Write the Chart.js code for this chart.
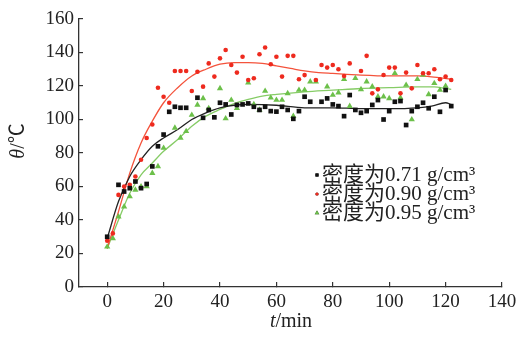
<!DOCTYPE html>
<html>
<head>
<meta charset="utf-8">
<script src="https://cdn.jsdelivr.net/npm/chart.js@4"></script>
<style>
  html, body { margin: 0; padding: 0; background: #fff; }
  #wrap { width: 518px; height: 337px; }
</style>
</head>
<body>
<div id="wrap"><canvas id="chart"></canvas></div>
<script>
// tick labels
var xTicks = [0, 20, 40, 60, 80, 100, 120, 140];
var yTicks = [0, 20, 40, 60, 80, 100, 120, 140, 160];

var labels = ['密度为0.71 g/cm³', '密度为0.90 g/cm³', '密度为0.95 g/cm³'];

// measured points, 0.71 g/cm3
var t071 = [0, 4, 6, 8, 10, 12, 14, 16, 18, 20, 22, 24, 26, 28, 32, 34, 36, 38, 40, 42, 44, 46, 48, 50, 52, 54, 56, 58, 60, 62, 64, 66, 68, 70, 72, 76, 78, 80, 82, 84, 86, 88, 90, 92, 94, 96, 98, 100, 102, 104, 106, 108, 110, 112, 114, 116, 118, 120, 122];
var temp071 = [30, 61, 57, 59, 63, 59, 61.5, 72, 84, 91, 104.6, 107.6, 107, 107, 113, 101, 105.7, 101.3, 110, 109, 103, 108.7, 109, 109.6, 107.6, 105.7, 107.6, 105, 104.7, 107.6, 105.7, 100.4, 105, 113.6, 110.6, 110.6, 112.6, 109, 108, 102, 114.6, 105.7, 104, 105, 108.7, 111.6, 100, 105, 110.6, 111, 96.7, 105, 107.6, 110, 106.7, 113.6, 104.6, 117.6, 108];

// measured points, 0.90 g/cm3
var t090 = [0, 2, 4, 6, 8, 10, 12, 14, 16, 18, 20, 22, 24, 26, 28, 30, 32, 34, 36, 38, 40, 42, 44, 46, 48, 50, 52, 54, 56, 58, 60, 62, 64, 66, 68, 70, 74, 76, 78, 80, 82, 84, 86, 90, 92, 94, 96, 98, 100, 102, 104, 106, 108, 110, 112, 114, 116, 118, 120, 122];
var temp090 = [27.6, 32, 55, 60, 61, 66, 76, 89, 97, 119, 113.6, 110, 129, 129, 129, 117, 128.5, 119.6, 133.5, 125.6, 136.5, 141.5, 132.5, 128, 137.5, 123.6, 124.6, 139, 143, 133, 137.5, 125.6, 138, 138, 124, 126.5, 123.6, 132.5, 131, 132.5, 130, 126, 133.5, 129, 138, 115.6, 118, 126.6, 131, 131, 115.6, 128, 118.6, 132.5, 127.6, 127.6, 130, 124, 125.6, 123.6];

// measured points, 0.95 g/cm3
var t095 = [0, 2, 4, 6, 8, 10, 12, 14, 16, 18, 20, 24, 26, 28, 30, 32, 34, 36, 40, 42, 44, 46, 50, 52, 54, 56, 58, 60, 62, 64, 66, 68, 70, 72, 74, 78, 80, 82, 84, 86, 88, 90, 92, 94, 96, 98, 100, 102, 104, 106, 108, 110, 112, 114, 116, 118, 120];
var temp095 = [24, 29, 42, 48, 54, 58, 60, 60, 68, 72, 83, 95, 89, 93, 102.7, 108.7, 112.6, 106.7, 118.6, 100.6, 111.6, 106.7, 122, 109, 105.7, 117, 113, 111.6, 111.6, 115.6, 102, 117.6, 117.6, 122.6, 122.6, 119.6, 114.6, 116, 124, 108, 124.6, 118, 122.6, 119.6, 113.6, 113.6, 112.6, 127.6, 113, 120.6, 100, 124, 126.6, 115, 121.6, 117.6, 120];

// fitted curves
var fitT071 = [0, 4, 8, 12, 16, 20, 25, 30, 35, 40, 45, 50, 60, 70, 80, 90, 100, 110, 115, 120, 122];
var fit071 = [29, 51, 66, 76, 84, 89, 94, 100, 104, 107, 108.5, 109, 108.5, 107, 107, 106.5, 106.5, 107, 108, 110, 109];
var fitT090 = [0, 4, 8, 12, 16, 20, 25, 30, 35, 40, 45, 50, 55, 60, 65, 70, 75, 80, 85, 90, 100, 110, 115, 122];
var fit090 = [23, 45, 68, 86, 99, 110, 119, 126, 130, 133, 134, 134, 133.5, 132, 130.5, 129, 128, 127.5, 127, 126.5, 126, 126, 125.5, 124];
var fitT095 = [0, 4, 8, 12, 16, 20, 25, 30, 35, 40, 45, 50, 55, 60, 70, 80, 90, 100, 110, 116, 120, 122];
var fit095 = [23, 40, 56, 67, 74, 81, 88, 96, 102, 106, 109.5, 112, 114, 115, 116.5, 117.5, 118.5, 119, 119.5, 119.5, 118.5, 118];

var serif = "'Liberation Serif', 'Times New Roman', 'Noto Sans CJK SC', serif";

function pts(xs, ys) {
  var out = [];
  xs.forEach(function (x, i) { out.push({ x: x, y: ys[i] }); });
  return out;
}

function fitLine(xs, ys, color) {
  return {
    type: 'line',
    data: pts(xs, ys),
    borderColor: color,
    borderWidth: 1.3,
    pointRadius: 0,
    fill: false,
    cubicInterpolationMode: 'monotone',
    isFit: true
  };
}

// axis titles with an italic symbol in front
var axisTitles = {
  id: 'axisTitles',
  afterDraw: function (chart) {
    var ctx = chart.ctx;
    function mixed(sym, rest, cx, cy, rot) {
      ctx.save();
      ctx.translate(cx, cy);
      if (rot) ctx.rotate(-Math.PI / 2);
      ctx.fillStyle = '#222';
      ctx.textBaseline = 'middle';
      ctx.font = 'italic 20px ' + serif;
      var w1 = ctx.measureText(sym).width;
      ctx.font = '20px ' + serif;
      var w2 = ctx.measureText(rest).width;
      var x0 = -(w1 + w2) / 2;
      ctx.font = 'italic 20px ' + serif;
      ctx.fillText(sym, x0, 0);
      ctx.font = '20px ' + serif;
      ctx.fillText(rest, x0 + w1, 0);
      ctx.restore();
    }
    mixed('θ', '/℃', 19, 141, true);
    mixed('t', '/min', 291, 322, false);
  }
};

// legend drawn inside the plot
var innerLegend = {
  id: 'innerLegend',
  afterDraw: function (chart) {
    var ctx = chart.ctx;
    var rows = chart.data.datasets.filter(function (d) { return !d.isFit; });
    ctx.save();
    ctx.font = '21px ' + serif;
    ctx.textBaseline = 'middle';
    rows.forEach(function (d, i) {
      var y = 175 + i * 19;
      Chart.helpers.drawPoint(ctx, {
        pointStyle: d.pointStyle,
        radius: d.legendRadius,
        borderWidth: 0
      }, 317, y);
      ctx.fillStyle = d.backgroundColor;
      ctx.fill();
      ctx.fillStyle = '#222';
      ctx.fillText(d.label, 322, y);
    });
    ctx.restore();
  }
};

function noEdgePadding(scale) {
  scale.paddingLeft = 0;
  scale.paddingRight = 0;
  scale.paddingTop = 0;
  scale.paddingBottom = 0;
}

new Chart(document.getElementById('chart'), {
  type: 'scatter',
  data: {
    datasets: [
      {
        label: labels[0], data: pts(t071, temp071),
        pointStyle: 'rect', pointRadius: 3.3, backgroundColor: '#111', borderWidth: 0, legendRadius: 2.2
      },
      {
        label: labels[1], data: pts(t090, temp090),
        pointStyle: 'circle', pointRadius: 2.3, backgroundColor: '#ee2a1e', borderWidth: 0, legendRadius: 1.6
      },
      {
        label: labels[2], data: pts(t095, temp095),
        pointStyle: 'triangle', pointRadius: 3.6, backgroundColor: '#6cc04a', borderWidth: 0, legendRadius: 2.6
      },
      fitLine(fitT071, fit071, '#222'),
      fitLine(fitT090, fit090, '#f4533c'),
      fitLine(fitT095, fit095, '#86cc66')
    ]
  },
  options: {
    responsive: true,
    maintainAspectRatio: false,
    animation: false,
    layout: { padding: { left: 0, top: 19, right: 16, bottom: 0 } },
    plugins: {
      legend: { display: false },
      tooltip: { enabled: false }
    },
    scales: {
      x: {
        type: 'linear',
        min: -10,
        max: 140,
        afterBuildTicks: function (scale) {
          scale.ticks = xTicks.map(function (v) { return { value: v }; });
        },
        afterFit: function (scale) { scale.height = 50; noEdgePadding(scale); },
        border: { display: true, color: '#333', width: 1.3 },
        grid: { display: true, drawOnChartArea: false, drawTicks: true, tickLength: -5, color: '#333', lineWidth: 1.2 },
        ticks: { color: '#222', font: { family: serif, size: 19 }, padding: 9, maxRotation: 0 }
      },
      y: {
        type: 'linear',
        min: 0,
        max: 160,
        afterBuildTicks: function (scale) {
          scale.ticks = yTicks.map(function (v) { return { value: v }; });
        },
        afterFit: function (scale) { scale.width = 79; noEdgePadding(scale); },
        border: { display: true, color: '#333', width: 1.3 },
        grid: { display: true, drawOnChartArea: false, drawTicks: true, tickLength: -4, color: '#333', lineWidth: 1.2 },
        ticks: { color: '#222', font: { family: serif, size: 19 }, padding: 9 }
      }
    }
  },
  plugins: [axisTitles, innerLegend]
});
</script>
</body>
</html>
